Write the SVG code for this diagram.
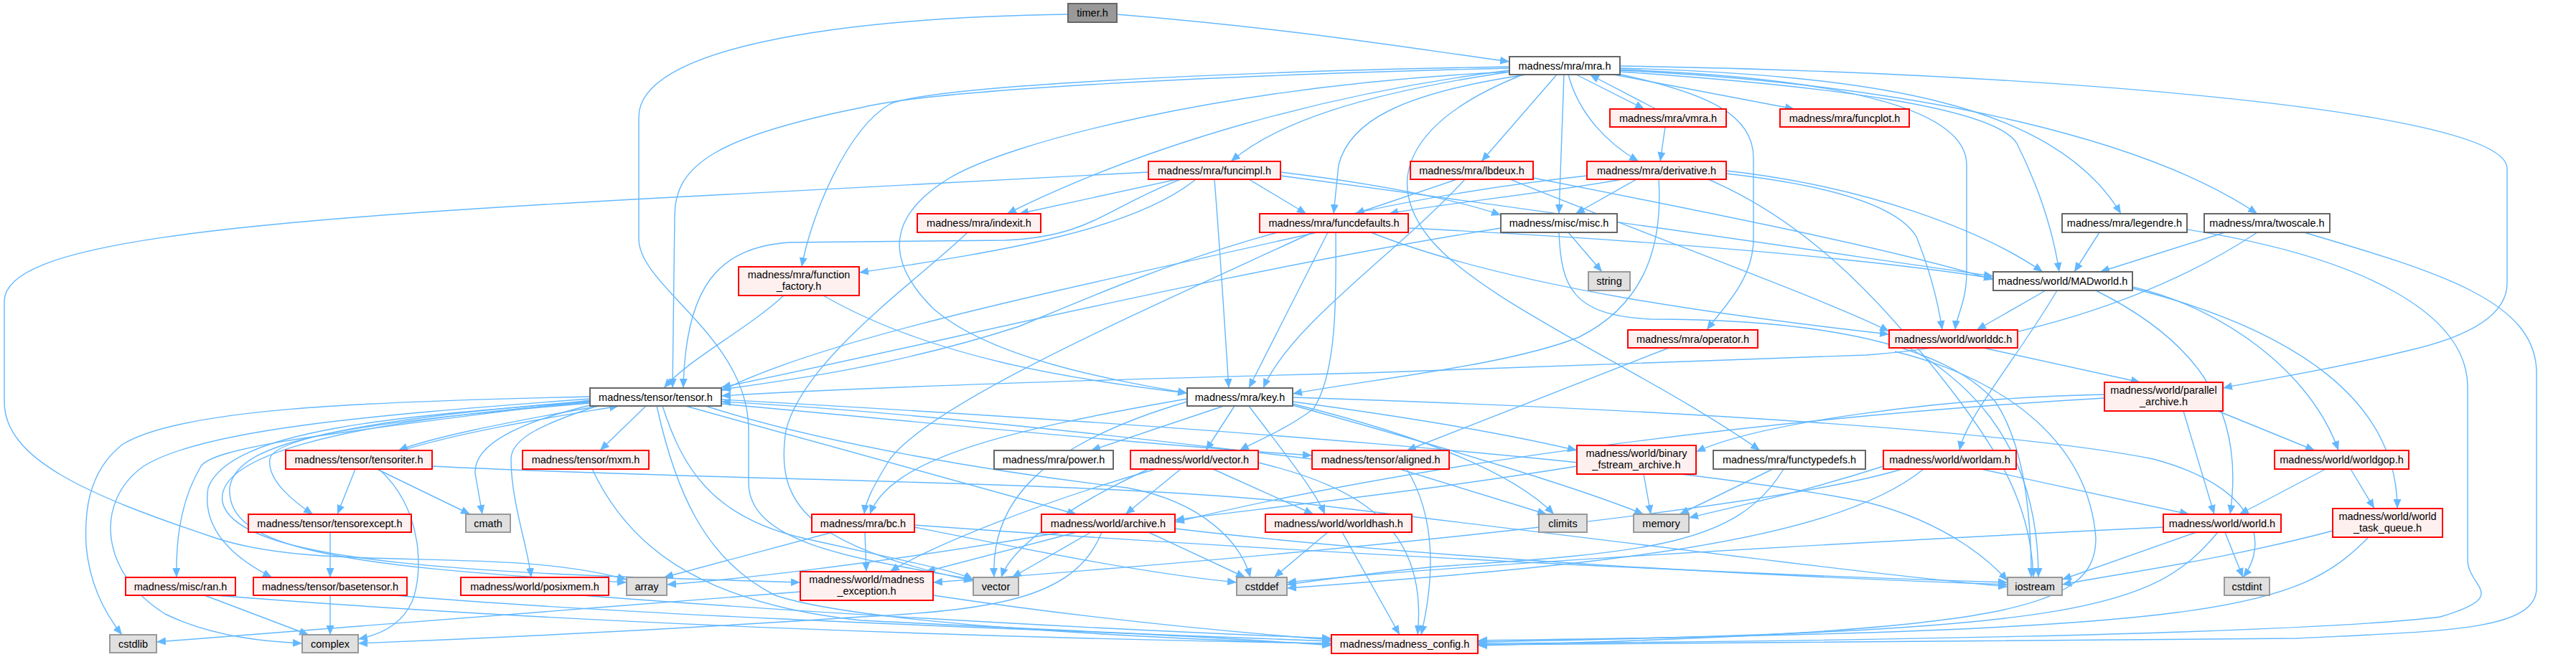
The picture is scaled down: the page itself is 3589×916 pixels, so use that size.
<svg xmlns="http://www.w3.org/2000/svg" width="3589" height="916" viewBox="0 0 3589 916">
<defs>
<style>
.e{fill:none;stroke:#63B8FF;stroke-width:1.4;marker-end:url(#a)}
.r rect{fill:#FFF0F0;stroke:#FF0000;stroke-width:2}
.w rect{fill:#FFFFFF;stroke:#666666;stroke-width:2}
.g rect{fill:#E0E0E0;stroke:#999999;stroke-width:2}
.k rect{fill:#999999;stroke:#666666;stroke-width:2}
text{font-family:"Liberation Sans",Arial,sans-serif;font-size:14.5px;fill:#000;text-anchor:middle}
</style>
<marker id="a" markerWidth="13" markerHeight="11" refX="13" refY="5.5" orient="auto" markerUnits="userSpaceOnUse"><path d="M0,0 L13,5.5 L0,11 z" fill="#63B8FF"/></marker>
</defs>
<rect width="3589" height="916" fill="#FFFFFF"/>
<g id="edges">
<path class="e" d="M1556,20 C1800,40 1950,65 2103,86"/>
<path class="e" d="M1488,20 C1150,25 890,70 890,163 L890,333 C890,400 1043,470 1043,600 L1043,673 C1043,760 1200,780 1356,808"/>
<path class="e" d="M2105,100 C1900,130 1780,170 1715,225"/>
<path class="e" d="M2103,98 C1850,130 1600,200 1403,298"/>
<path class="e" d="M2103,93 C1700,100 1300,120 1240,145 C1180,180 1130,300 1117,372"/>
<path class="e" d="M2103,95 C1700,105 1300,125 1200,150 C1000,190 940,230 940,300 L937,541"/>
<path class="e" d="M2103,100 C1700,120 1400,200 1320,250 C1240,300 1230,360 1300,430 C1380,500 1550,530 1654,548"/>
<path class="e" d="M2127,104 C1950,130 1880,170 1865,230 L1858,298"/>
<path class="e" d="M2122,104 C1980,160 1920,240 1990,330 C2060,420 2300,520 2452,628"/>
<path class="e" d="M2169,104 L2064,225"/>
<path class="e" d="M2179,104 L2172,298"/>
<path class="e" d="M2185,104 C2200,160 2240,200 2283,225"/>
<path class="e" d="M2196,104 L2291,152"/>
<path class="e" d="M2307,152 L2215,104"/>
<path class="e" d="M2248,104 L2500,152"/>
<path class="e" d="M2254,103 C2380,130 2443,160 2443,220 L2443,333 C2443,390 2400,430 2378,460"/>
<path class="e" d="M2257,95 C2600,105 2860,140 2955,298"/>
<path class="e" d="M2257,98 C2700,120 3000,200 3145,298"/>
<path class="e" d="M2257,100 C2550,120 2780,150 2810,200 C2840,260 2860,320 2869,379"/>
<path class="e" d="M2257,97 C2600,110 2740,160 2740,230 L2740,380 C2740,420 2726,440 2724,460"/>
<path class="e" d="M2257,92 C2800,100 3493,150 3493,235 L3493,395 C3493,440 3440,470 3350,490 C3250,515 3150,530 3097,541"/>
<path class="e" d="M2320,177 L2313,225"/>
<path class="e" d="M2260,250 C2150,270 2000,285 1935,298"/>
<path class="e" d="M2280,250 L2195,298"/>
<path class="e" d="M2211,245 C1800,290 1600,380 1420,455 C1250,510 1100,530 1005,543"/>
<path class="e" d="M2311,250 C2316,330 2300,420 2200,470 C2100,510 1900,530 1801,549"/>
<path class="e" d="M2405,238 C2600,260 2760,320 2846,379"/>
<path class="e" d="M2405,242 C2520,255 2640,280 2670,330 C2690,380 2700,420 2706,460"/>
<path class="e" d="M2380,250 C2520,310 2620,420 2700,520 C2780,620 2830,700 2833,805"/>
<path class="e" d="M2030,250 L1888,298"/>
<path class="e" d="M2041,250 C1950,350 1800,450 1760,541"/>
<path class="e" d="M2136,248 C2400,300 2650,350 2777,390"/>
<path class="e" d="M2104,250 C2300,330 2550,420 2632,462"/>
<path class="e" d="M1600,240 L900,277 C300,310 6,340 6,420 L6,560 C6,640 120,690 300,750 C450,800 700,760 873,808"/>
<path class="e" d="M1640,250 L1420,298"/>
<path class="e" d="M1666,250 C1580,320 1400,350 1197,380"/>
<path class="e" d="M1645,250 C1540,290 1520,330 1400,335 L1100,338 C1000,345 955,400 952,541"/>
<path class="e" d="M1692,250 C1700,350 1706,450 1712,541"/>
<path class="e" d="M1740,250 L1820,298"/>
<path class="e" d="M1784,240 C1950,260 2050,285 2091,300"/>
<path class="e" d="M1784,245 C2200,300 2600,360 2777,385"/>
<path class="e" d="M1348,324 C1280,390 1120,500 1095,600 C1080,700 1120,760 1356,810"/>
<path class="e" d="M1092,412 C1040,460 960,500 925,541"/>
<path class="e" d="M1147,412 C1300,500 1500,530 1654,548"/>
<path class="e" d="M1835,324 C1500,400 1150,470 1005,545"/>
<path class="e" d="M1850,324 L1740,541"/>
<path class="e" d="M1861,324 C1862,420 1862,520 1830,570 C1790,600 1750,615 1727,628"/>
<path class="e" d="M1829,324 C1600,430 1300,560 1240,640 C1215,680 1206,700 1204,717"/>
<path class="e" d="M1962,318 C2300,335 2600,360 2777,388"/>
<path class="e" d="M1910,324 C2100,400 2400,440 2632,466"/>
<path class="e" d="M2185,324 L2232,379"/>
<path class="e" d="M2091,318 C1700,380 1300,480 1005,540"/>
<path class="e" d="M2172,324 C2175,400 2190,440 2300,445 C2500,445 2700,470 2780,560 C2820,620 2830,720 2830,805"/>
<path class="e" d="M2850,405 L2754,460"/>
<path class="e" d="M2866,405 C2810,500 2740,580 2730,628"/>
<path class="e" d="M2920,405 C3050,470 3130,560 3107,717"/>
<path class="e" d="M2971,400 C3100,430 3220,520 3258,628"/>
<path class="e" d="M2971,402 C3200,460 3340,560 3340,709"/>
<path class="e" d="M2763,485 L2982,533"/>
<path class="e" d="M2660,485 C2720,520 2840,600 2840,805"/>
<path class="e" d="M2640,490 C2800,530 2910,620 2920,750 C2920,850 2800,880 2059,900"/>
<path class="e" d="M2932,550 C2700,555 2450,590 2363,630"/>
<path class="e" d="M2932,555 C2500,580 2000,640 1637,728"/>
<path class="e" d="M3042,573 L3085,717"/>
<path class="e" d="M3090,573 L3225,628"/>
<path class="e" d="M3100,324 L2926,379"/>
<path class="e" d="M3145,324 C3000,420 2800,480 2600,495 L1900,520 C1500,530 1200,540 1005,552"/>
<path class="e" d="M3210,324 C3400,380 3534,420 3534,520 L3534,820 C3534,880 3400,880 3200,890 L2059,899"/>
<path class="e" d="M2925,324 L2890,379"/>
<path class="e" d="M3047,320 C3300,360 3438,440 3438,540 L3438,780 C3438,820 3500,830 3400,860 C3200,885 2500,895 2059,897"/>
<path class="e" d="M2325,485 L1960,628"/>
<path class="e" d="M1705,566 L1520,628"/>
<path class="e" d="M1720,566 L1680,628"/>
<path class="e" d="M1740,566 C1780,620 1830,680 1846,717"/>
<path class="e" d="M1654,556 C1400,600 1240,640 1212,717"/>
<path class="e" d="M1801,560 C1950,580 2100,605 2197,628"/>
<path class="e" d="M1801,563 C1950,600 2100,650 2165,717"/>
<path class="e" d="M1801,554 C2300,570 2800,600 3000,640 C3150,680 3160,760 3125,805"/>
<path class="e" d="M1654,560 C1450,620 1380,700 1385,805"/>
<path class="e" d="M1801,565 C2000,620 2200,680 2290,717"/>
<path class="e" d="M1610,654 C1450,700 1300,760 1240,797"/>
<path class="e" d="M1600,654 C1500,700 1410,760 1395,805"/>
<path class="e" d="M1645,654 L1568,717"/>
<path class="e" d="M1690,654 L1830,717"/>
<path class="e" d="M1753,645 C1900,680 1990,740 1975,885"/>
<path class="e" d="M1828,640 C1500,600 1200,570 1005,560"/>
<path class="e" d="M1005,563 C1300,590 1600,620 1828,635"/>
<path class="e" d="M1950,654 L2155,717"/>
<path class="e" d="M1960,654 C2000,720 2000,800 1980,885"/>
<path class="e" d="M2290,661 L2300,717"/>
<path class="e" d="M2197,650 C1950,690 1700,715 1637,725"/>
<path class="e" d="M2470,654 L2340,717"/>
<path class="e" d="M2485,654 C2420,760 2300,770 2000,790 C1900,800 1830,810 1793,815"/>
<path class="e" d="M2624,650 C2500,690 2400,710 2353,722"/>
<path class="e" d="M2760,654 L3050,717"/>
<path class="e" d="M2680,654 C2550,760 2200,790 1793,820"/>
<path class="e" d="M2650,654 C2500,700 2000,760 1300,812"/>
<path class="e" d="M3240,654 L3120,717"/>
<path class="e" d="M3275,654 L3308,709"/>
<path class="e" d="M3060,742 L2873,808"/>
<path class="e" d="M3100,742 L3125,805"/>
<path class="e" d="M3014,735 C2500,760 2000,790 1793,812"/>
<path class="e" d="M3090,742 C3000,850 2900,880 2059,895"/>
<path class="e" d="M3250,740 C3100,780 2950,800 2873,815"/>
<path class="e" d="M3300,749 C3200,850 3100,880 2059,893"/>
<path class="e" d="M1480,742 C1200,790 1000,810 929,815"/>
<path class="e" d="M1500,742 L1290,797"/>
<path class="e" d="M1520,742 L1410,805"/>
<path class="e" d="M1535,742 C1500,830 1400,850 1200,860 C900,880 600,893 499,897"/>
<path class="e" d="M1600,742 L1735,805"/>
<path class="e" d="M1637,737 C2000,780 2500,805 2797,815"/>
<path class="e" d="M1160,742 L925,805"/>
<path class="e" d="M1205,742 L1207,797"/>
<path class="e" d="M1274,735 C1450,770 1600,800 1723,812"/>
<path class="e" d="M1274,732 C1800,770 2400,800 2797,812"/>
<path class="e" d="M1850,742 L1775,805"/>
<path class="e" d="M1870,742 L1950,885"/>
<path class="e" d="M1115,825 C800,850 400,880 218,895"/>
<path class="e" d="M1300,830 C1500,860 1700,880 1855,892"/>
<path class="e" d="M495,654 L470,717"/>
<path class="e" d="M525,654 L655,717"/>
<path class="e" d="M528,654 C590,710 590,800 574,839 C560,870 530,885 499,891"/>
<path class="e" d="M560,628 C650,600 780,580 862,566"/>
<path class="e" d="M835,566 C700,590 600,610 555,628"/>
<path class="e" d="M602,650 C1000,670 1500,670 1800,700 C2300,760 2600,800 2797,818"/>
<path class="e" d="M460,742 L460,805"/>
<path class="e" d="M460,830 L460,885"/>
<path class="e" d="M550,830 C900,860 1500,880 1855,894"/>
<path class="e" d="M285,830 L430,885"/>
<path class="e" d="M300,830 C800,870 1400,890 1855,897"/>
<path class="e" d="M810,830 C1200,860 1600,880 1855,890"/>
<path class="e" d="M825,654 C870,750 960,840 1200,865 C1500,880 1700,888 1855,900"/>
<path class="e" d="M822,553 C500,560 250,570 170,620 C120,660 118,720 120,760 C125,820 150,860 170,885"/>
<path class="e" d="M822,556 C500,580 280,600 200,650 C130,700 140,800 230,856 C300,890 380,895 421,897"/>
<path class="e" d="M822,558 C500,600 300,620 280,650 C250,700 245,760 246,805"/>
<path class="e" d="M822,560 C550,580 320,600 290,680 C280,740 330,780 379,805"/>
<path class="e" d="M822,559 C550,580 380,610 376,640 C372,670 410,700 436,717"/>
<path class="e" d="M822,565 C720,590 660,620 662,660 L672,717"/>
<path class="e" d="M832,566 C760,590 712,610 712,640 C712,700 735,760 740,805"/>
<path class="e" d="M900,566 L836,628"/>
<path class="e" d="M822,562 C500,590 330,610 320,680 C315,760 450,790 873,812"/>
<path class="e" d="M822,561 C450,590 300,640 310,700 C330,790 700,800 1115,812"/>
<path class="e" d="M923,566 C950,650 990,720 1118,750 C1250,780 1330,795 1356,808"/>
<path class="e" d="M955,566 L1500,717"/>
<path class="e" d="M915,566 C940,680 980,780 1080,830 C1200,870 1600,890 1855,898"/>
<path class="e" d="M1005,557 C1600,590 2300,640 2600,700 C2720,730 2780,790 2797,810"/>
<path class="e" d="M983,566 C1150,620 1400,660 1570,680 C1680,700 1730,760 1742,805"/>
</g>
<g id="n_timer" class="k"><rect x="1488" y="5" width="68" height="26"/><text x="1522" y="23">timer.h</text></g>
<g id="n_mra" class="w"><rect x="2103" y="79" width="154" height="25"/><text x="2180" y="96.5">madness/mra/mra.h</text></g>
<g id="n_vmra" class="r"><rect x="2243" y="152" width="162" height="25"/><text x="2324" y="169.5">madness/mra/vmra.h</text></g>
<g id="n_funcplot" class="r"><rect x="2480" y="152" width="180" height="25"/><text x="2570" y="169.5">madness/mra/funcplot.h</text></g>
<g id="n_derivative" class="r"><rect x="2211" y="225" width="194" height="25"/><text x="2308" y="242.5">madness/mra/derivative.h</text></g>
<g id="n_lbdeux" class="r"><rect x="1965" y="225" width="171" height="25"/><text x="2050.5" y="242.5">madness/mra/lbdeux.h</text></g>
<g id="n_funcimpl" class="r"><rect x="1600" y="225" width="184" height="25"/><text x="1692" y="242.5">madness/mra/funcimpl.h</text></g>
<g id="n_legendre" class="w"><rect x="2873" y="298" width="174" height="26"/><text x="2960" y="316">madness/mra/legendre.h</text></g>
<g id="n_twoscale" class="w"><rect x="3071" y="298" width="175" height="26"/><text x="3158.5" y="316">madness/mra/twoscale.h</text></g>
<g id="n_indexit" class="r"><rect x="1278" y="298" width="172" height="26"/><text x="1364" y="316">madness/mra/indexit.h</text></g>
<g id="n_funcdefaults" class="r"><rect x="1755" y="298" width="207" height="26"/><text x="1858.5" y="316">madness/mra/funcdefaults.h</text></g>
<g id="n_misc" class="w"><rect x="2091" y="298" width="162" height="26"/><text x="2172" y="316">madness/misc/misc.h</text></g>
<g id="n_madworld" class="w"><rect x="2777" y="379" width="194" height="26"/><text x="2874" y="397">madness/world/MADworld.h</text></g>
<g id="n_function_factory" class="r"><rect x="1029" y="372" width="168" height="40"/><text x="1113" y="388">madness/mra/function</text><text x="1113" y="404">_factory.h</text></g>
<g id="n_string" class="g"><rect x="2213" y="379" width="58" height="26"/><text x="2242" y="397">string</text></g>
<g id="n_operator" class="r"><rect x="2268" y="460" width="181" height="25"/><text x="2358.5" y="477.5">madness/mra/operator.h</text></g>
<g id="n_worlddc" class="r"><rect x="2632" y="460" width="179" height="25"/><text x="2721.5" y="477.5">madness/world/worlddc.h</text></g>
<g id="n_parallel_archive" class="r"><rect x="2932" y="533" width="165" height="40"/><text x="3014.5" y="549">madness/world/parallel</text><text x="3014.5" y="565">_archive.h</text></g>
<g id="n_tensor" class="w"><rect x="822" y="541" width="183" height="25"/><text x="913.5" y="558.5">madness/tensor/tensor.h</text></g>
<g id="n_key" class="w"><rect x="1654" y="541" width="147" height="25"/><text x="1727.5" y="558.5">madness/mra/key.h</text></g>
<g id="n_binary" class="r"><rect x="2197" y="621" width="166" height="40"/><text x="2280" y="637">madness/world/binary</text><text x="2280" y="653">_fstream_archive.h</text></g>
<g id="n_functypedefs" class="w"><rect x="2387" y="628" width="212" height="26"/><text x="2493" y="646">madness/mra/functypedefs.h</text></g>
<g id="n_worldam" class="r"><rect x="2624" y="628" width="185" height="26"/><text x="2716.5" y="646">madness/world/worldam.h</text></g>
<g id="n_worldgop" class="r"><rect x="3169" y="628" width="187" height="26"/><text x="3262.5" y="646">madness/world/worldgop.h</text></g>
<g id="n_tensoriter" class="r"><rect x="398" y="628" width="204" height="26"/><text x="500" y="646">madness/tensor/tensoriter.h</text></g>
<g id="n_mxm" class="r"><rect x="728" y="628" width="176" height="26"/><text x="816" y="646">madness/tensor/mxm.h</text></g>
<g id="n_power" class="w"><rect x="1385" y="628" width="166" height="26"/><text x="1468" y="646">madness/mra/power.h</text></g>
<g id="n_vector_h" class="r"><rect x="1575" y="628" width="178" height="26"/><text x="1664" y="646">madness/world/vector.h</text></g>
<g id="n_aligned" class="r"><rect x="1828" y="628" width="191" height="26"/><text x="1923.5" y="646">madness/tensor/aligned.h</text></g>
<g id="n_climits" class="g"><rect x="2144" y="717" width="67" height="25"/><text x="2177.5" y="734.5">climits</text></g>
<g id="n_memory" class="g"><rect x="2276" y="717" width="77" height="25"/><text x="2314.5" y="734.5">memory</text></g>
<g id="n_tensorexcept" class="r"><rect x="346" y="717" width="227" height="25"/><text x="459.5" y="734.5">madness/tensor/tensorexcept.h</text></g>
<g id="n_cmath" class="g"><rect x="649" y="717" width="62" height="25"/><text x="680" y="734.5">cmath</text></g>
<g id="n_bc" class="r"><rect x="1131" y="717" width="143" height="25"/><text x="1202.5" y="734.5">madness/mra/bc.h</text></g>
<g id="n_archive" class="r"><rect x="1451" y="717" width="186" height="25"/><text x="1544" y="734.5">madness/world/archive.h</text></g>
<g id="n_worldhash" class="r"><rect x="1763" y="717" width="204" height="25"/><text x="1865" y="734.5">madness/world/worldhash.h</text></g>
<g id="n_world" class="r"><rect x="3014" y="717" width="164" height="25"/><text x="3096" y="734.5">madness/world/world.h</text></g>
<g id="n_world_task_queue" class="r"><rect x="3250" y="709" width="153" height="40"/><text x="3326.5" y="725">madness/world/world</text><text x="3326.5" y="741">_task_queue.h</text></g>
<g id="n_ran" class="r"><rect x="175" y="805" width="153" height="25"/><text x="251.5" y="822.5">madness/misc/ran.h</text></g>
<g id="n_basetensor" class="r"><rect x="353" y="805" width="214" height="25"/><text x="460" y="822.5">madness/tensor/basetensor.h</text></g>
<g id="n_posixmem" class="r"><rect x="642" y="805" width="206" height="25"/><text x="745" y="822.5">madness/world/posixmem.h</text></g>
<g id="n_array" class="g"><rect x="873" y="805" width="56" height="25"/><text x="901" y="822.5">array</text></g>
<g id="n_madness_exception" class="r"><rect x="1115" y="797" width="185" height="40"/><text x="1207.5" y="813">madness/world/madness</text><text x="1207.5" y="829">_exception.h</text></g>
<g id="n_vector" class="g"><rect x="1356" y="805" width="63" height="25"/><text x="1387.5" y="822.5">vector</text></g>
<g id="n_cstddef" class="g"><rect x="1723" y="805" width="70" height="25"/><text x="1758" y="822.5">cstddef</text></g>
<g id="n_iostream" class="g"><rect x="2797" y="805" width="76" height="25"/><text x="2835" y="822.5">iostream</text></g>
<g id="n_cstdint" class="g"><rect x="3099" y="805" width="63" height="25"/><text x="3130.5" y="822.5">cstdint</text></g>
<g id="n_cstdlib" class="g"><rect x="153" y="885" width="65" height="25"/><text x="185.5" y="902.5">cstdlib</text></g>
<g id="n_complex" class="g"><rect x="421" y="885" width="78" height="25"/><text x="460" y="902.5">complex</text></g>
<g id="n_config" class="r"><rect x="1855" y="885" width="204" height="26"/><text x="1957" y="903">madness/madness_config.h</text></g>
</svg>
